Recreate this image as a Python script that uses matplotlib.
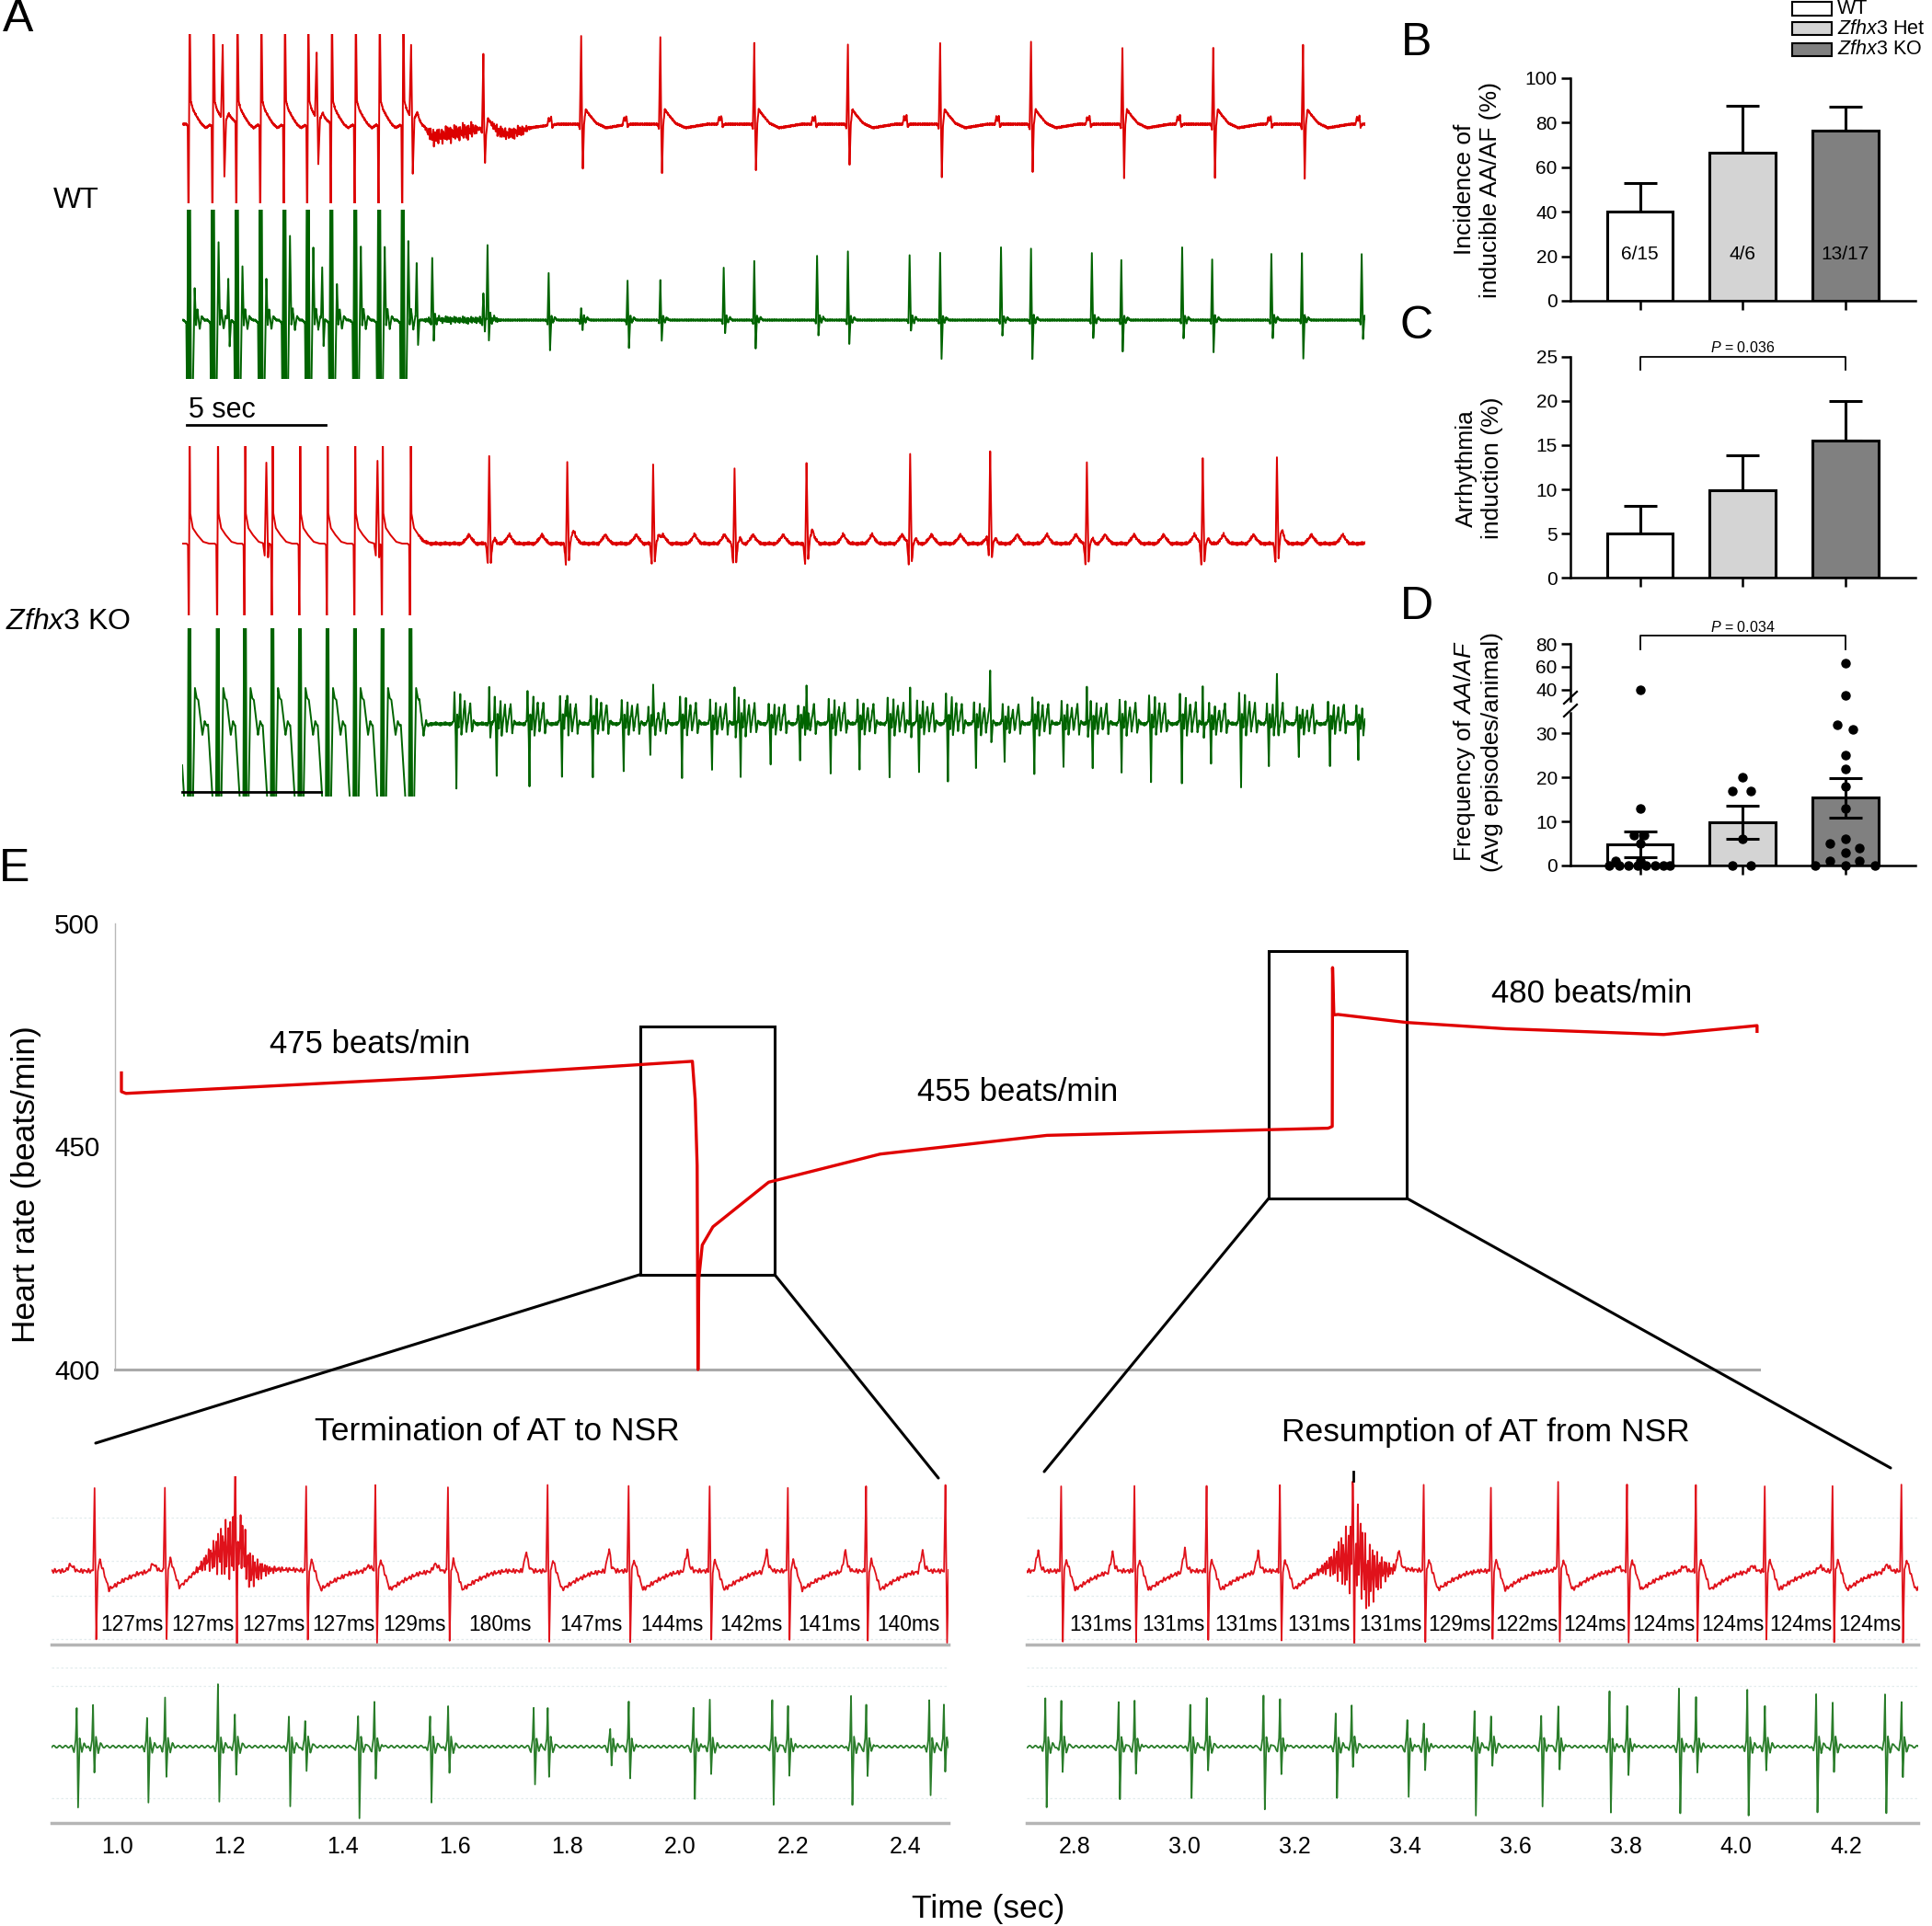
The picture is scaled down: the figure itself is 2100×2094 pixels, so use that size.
import numpy as np
import matplotlib
matplotlib.use("Agg")
import matplotlib.pyplot as plt
from matplotlib import font_manager
from matplotlib.patches import Rectangle, ConnectionPatch
from matplotlib.lines import Line2D
from matplotlib.transforms import blended_transform_factory as blend

# ============================ DATA ============================
# ---- Panels B-D ----
groups = ["WT", "Zfhx3 Het", "Zfhx3 KO"]
incidence_pct = [40.0, 66.7, 76.5]
incidence_sem = [13.0, 21.0, 10.5]
incidence_n = ["6/15", "4/6", "13/17"]
induction_pct = [5.0, 9.9, 15.5]
induction_sem = [3.1, 3.9, 4.5]
freq_mean = [4.8, 9.8, 15.4]
freq_sem = [3.0, 3.8, 4.5]
freq_wt = [40, 13, 7, 7, 5, 1, 1, 0, 0, 0, 0, 0, 0, 0, 0]
freq_het = [20, 17, 17, 6, 0, 0]
freq_ko = [63, 35, 32, 31, 25, 22, 18, 13, 6, 5, 4, 3, 1, 1, 0, 0, 0]
p_induction = "0.036"
p_frequency = "0.034"

# ---- Panel A (time in s) ----
wt_pace_t = [0.25, 1.11, 1.97, 2.83, 3.68, 4.52, 5.37, 6.23, 7.09, 7.94]
wt_pvc_t = [1.46, 4.84, 8.24]
wt_pvc_up = [0.81, 0.71, 0.79]
wt_pvc_dn = [-0.59, -0.46, -0.59]
wt_pvc_green = [0.45, 0.56, 0.60]
wt_green_sec = [0.35, 0.85, 0.58, 0.45, 0.91, 0.78, 0.40, 0.80, 0.80, 0.85]
wt_beat_t = [10.84, 14.36, 17.21, 20.59, 23.96, 27.28, 30.55, 33.84, 37.11, 40.34]
wt_beat_up = [0.82, 0.96, 0.94, 0.88, 0.87, 0.88, 0.90, 0.82, 0.83, 0.87]
wt_beat_dn = [-0.33, -0.49, -0.53, -0.51, -0.44, -0.57, -0.52, -0.58, -0.59, -0.60]
wt_pwave_t = [13.26, 15.97, 19.39, 22.76, 26.05, 29.37, 32.64, 35.89, 39.16, 42.35]
wt_wander_t = [8.45, 8.75, 9.05, 10.7, 10.8, 10.95, 11.2, 12.0, 13.5]
wt_wander_v = [0.0, -0.06, -0.14, -0.05, -0.05, -0.10, -0.10, -0.06, 0.0]
wt_green_t = [9.00, 10.84, 10.99, 13.19, 14.36, 16.03, 17.21, 19.49, 20.59, 22.85, 23.96,
              26.18, 27.28, 29.47, 30.55, 32.74, 33.80, 35.99, 37.07, 39.20, 40.30, 42.45]
wt_green_up = [0.68, 0.30, 0.85, 0.51, 0.13, 0.43, 0.43, 0.56, 0.64, 0.70, 0.75,
               0.71, 0.73, 0.79, 0.78, 0.73, 0.66, 0.80, 0.65, 0.72, 0.72, 0.72]
wt_green_dn = [-0.22, -0.10, -0.20, -0.33, -0.10, -0.30, -0.23, -0.14, -0.30, -0.16, -0.26,
               -0.12, -0.43, -0.17, -0.42, -0.20, -0.34, -0.20, -0.35, -0.19, -0.42, -0.20]

ko_pace_t = [0.26, 1.28, 2.26, 3.25, 4.24, 5.23, 6.22, 7.21, 8.22]
ko_pvc_t = [3.03, 7.03]
ko_pvc_up = [0.88, 0.90]
ko_beat_t = [11.05, 13.86, 16.95, 19.88, 22.47, 26.20, 29.08, 32.56, 36.73, 39.40]
ko_beat_up = [0.95, 0.89, 0.85, 0.82, 0.87, 0.98, 0.92, 0.88, 0.92, 0.91]
ko_fib_t = [9.87, 11.32, 12.50, 13.67, 14.78, 15.89, 16.85, 17.99, 19.07, 20.10, 21.18, 22.24,
            23.34, 24.38, 25.46, 26.52, 27.56, 28.57, 29.60, 30.67, 31.72, 32.77, 33.81, 34.87,
            35.98, 37.03, 38.11, 39.11, 40.19, 41.31, 42.33]
ko_fib_dn = [-0.70, -0.57, -0.67, -0.58, -0.60, -0.52, -0.33, -0.58, -0.50, -0.57, -0.45, -0.40,
             -0.53, -0.50, -0.57, -0.52, -0.63, -0.48, -0.42, -0.55, -0.47, -0.48, -0.52, -0.63,
             -0.63, -0.43, -0.68, -0.45, -0.37, -0.47, -0.38]
scale_bar_sec = 5

# ---- Panel E: heart-rate trend ----
hr_time = [0.39, 0.39, 0.67, 19.25, 35.12, 35.29, 35.41, 35.46, 35.51, 35.72, 36.37, 39.76,
           46.54, 56.69, 73.78, 73.86, 74.04, 74.06, 74.14, 74.39, 78.57, 84.57, 94.20, 99.88, 99.88]
hr_bpm = [466.5, 462.3, 461.9, 465.4, 469.1, 460.6, 445.7, 400.0, 420.4, 427.9, 432.0, 442.0,
          448.3, 452.5, 454.1, 454.2, 454.5, 490.1, 479.5, 479.6, 477.8, 476.4, 475.1, 477.1, 475.8]
hr_labels = ["475 beats/min", "455 beats/min", "480 beats/min"]
hr_label_pos = [(15.5, 472.9), (54.9, 462.1), (89.8, 484.2)]
zoom_boxes = [(31.95, 40.12, 421.3, 477.0), (70.18, 78.57, 438.4, 493.9)]

# ---- Panel E: ECG strips (time in s) ----
L_win = (0.883, 2.477)
R_win = (2.713, 4.331)
R_up_amp, R_dn_amp = 0.92, -0.76
L_R_t = [0.961, 1.086, 1.211, 1.337, 1.460, 1.589, 1.766, 1.910, 2.054, 2.193, 2.332, 2.473]
L_int = [127, 127, 127, 127, 129, 180, 147, 144, 142, 141, 140]
L_P_t = [0.916, 1.063, 1.445, 1.565, 1.727, 1.874, 2.013, 2.154, 2.294, 2.431]
L_P_a = [0.07, 0.08, 0.05, 0.08, 0.22, 0.25, 0.23, 0.22, 0.23, 0.23]
L_G_t = [0.929, 0.958, 1.054, 1.086, 1.180, 1.210, 1.306, 1.335, 1.429, 1.458, 1.557, 1.589,
         1.741, 1.766, 1.877, 1.910, 2.025, 2.054, 2.165, 2.193, 2.305, 2.332, 2.444, 2.470]
L_G_up = [0.41, 0.46, 0.31, 0.53, 0.68, 0.36, 0.33, 0.29, 0.34, 0.48, 0.34, 0.45,
          0.41, 0.43, 0.18, 0.48, 0.41, 0.51, 0.51, 0.43, 0.56, 0.45, 0.50, 0.46]
L_G_dn = [-0.67, -0.29, -0.62, -0.34, -0.61, -0.31, -0.66, -0.26, -0.77, -0.34, -0.61, -0.29,
          -0.41, -0.32, -0.21, -0.34, -0.57, -0.31, -0.62, -0.32, -0.64, -0.31, -0.54, -0.26]
L_ticks = [1.0, 1.2, 1.4, 1.6, 1.8, 2.0, 2.2, 2.4]

R_R_t = [2.777, 2.910, 3.041, 3.174, 3.306, 3.435, 3.557, 3.679, 3.804, 3.929, 4.054, 4.177, 4.302]
R_int = [131, 131, 131, 131, 131, 129, 122, 124, 124, 124, 124, 124]
R_P_t = [2.734, 2.869, 3.000, 3.133, 3.389, 3.671, 3.783, 3.903, 4.028, 4.150, 4.273]
R_P_a = [0.23, 0.22, 0.26, 0.22, 0.22, 0.02, 0.03, 0.04, 0.05, 0.04, 0.07]
R_G_t = [2.748, 2.777, 2.881, 2.910, 3.011, 3.041, 3.144, 3.174, 3.275, 3.304, 3.405, 3.435, 3.527,
         3.557, 3.648, 3.679, 3.772, 3.804, 3.898, 3.929, 4.022, 4.054, 4.147, 4.177, 4.272, 4.302]
R_G_up = [0.53, 0.51, 0.49, 0.49, 0.46, 0.54, 0.56, 0.51, 0.36, 0.46, 0.28, 0.24, 0.39,
          0.34, 0.33, 0.43, 0.59, 0.43, 0.62, 0.53, 0.62, 0.44, 0.58, 0.49, 0.58, 0.49]
R_G_dn = [-0.67, -0.27, -0.56, -0.29, -0.57, -0.26, -0.67, -0.29, -0.57, -0.22, -0.54, -0.26, -0.76,
          -0.21, -0.64, -0.24, -0.72, -0.31, -0.73, -0.29, -0.76, -0.27, -0.72, -0.27, -0.72, -0.32]
R_ticks = [2.8, 3.0, 3.2, 3.4, 3.6, 3.8, 4.0, 4.2]
L_burst = (1.205, 0.35, 0.25)   # centre, oscillation amplitude, hump
R_burst = (3.315, 0.45, 0.15)

# ============================ STYLE / LAYOUT ============================
names = {f.name for f in font_manager.fontManager.ttflist}
SANS = "Liberation Sans" if "Liberation Sans" in names else "DejaVu Sans"
NARROW = "Liberation Sans Narrow" if "Liberation Sans Narrow" in names else None
plt.rcParams["font.family"] = [SANS, "DejaVu Sans"]
plt.rcParams["mathtext.fontset"] = "custom"
plt.rcParams["mathtext.rm"] = SANS
plt.rcParams["mathtext.it"] = SANS + ":italic"
plt.rcParams["mathtext.bf"] = SANS + ":bold"
COND = [NARROW, "DejaVu Sans"] if NARROW else [SANS, "DejaVu Sans"]
CS = 1.0 if NARROW else 0.82

RED_A, GREEN_A = "#dc0000", "#006400"
RED_E, GREEN_E = "#e0121b", "#2a7d2a"

W, H = 2100, 2094
fig = plt.figure(figsize=(W / 100, H / 100), dpi=100)


def fx(x):
    return x / W


def fy(y):
    return 1 - y / H


def pax(x0, y0, x1, y1):
    return fig.add_axes([x0 / W, 1 - y1 / H, (x1 - x0) / W, (y1 - y0) / H])


class Trace:
    def __init__(self):
        self.parts = []

    def add(self, c, offs, vals):
        self.parts.append((float(c), np.asarray(offs, float), np.asarray(vals, float)))

    def render(self, t0, t1, dt):
        pts = [np.arange(t0, t1 + dt / 2, dt)]
        for c, o, v in self.parts:
            pts.append(c + o)
        t = np.unique(np.concatenate(pts))
        t = t[(t >= t0) & (t <= t1)]
        y = np.zeros_like(t)
        for c, o, v in self.parts:
            y += np.interp(t, c + o, v, left=0.0, right=0.0)
        return t, y


def wig(t, amp, f=(13.1, 19.7, 29.3)):
    return amp * (np.sin(2 * np.pi * f[0] * t) + 0.7 * np.sin(2 * np.pi * f[1] * t + 1.3)
                  + 0.5 * np.sin(2 * np.pi * f[2] * t + 2.1)) / 2.2


def window(t, a, b, edge):
    return np.clip((t - a) / edge, 0, 1) * np.clip((b - t) / edge, 0, 1)


# ---------------- panel letters ----------------
for s, (x, y) in {"A": (20, 21), "B": (1540, 47), "C": (1540, 355), "D": (1540, 660), "E": (16, 945)}.items():
    fig.text(fx(x), fy(y), s, fontsize=36, ha="center", va="center")

# ============================ PANEL A ============================
TA = (0.0, 42.58)


def trace_axes(ytop, ybase, ybot):
    ax = pax(198, ytop, 1484, ybot)
    ax.set_xlim(*TA)
    ax.set_ylim(-(ybot - ybase) / 100, (ybase - ytop) / 100)
    ax.axis("off")
    return ax


# WT red
tr = Trace()
for tp in wt_pace_t:
    tr.add(tp, [-0.10, -0.05, -0.02, 0.02, 0.06, 0.14, 0.28, 0.45, 0.60, 0.80],
           [0, -0.02, -1.2, 1.3, 0.25, 0.16, 0.08, 0.0, -0.04, 0])
for tt, up, dn in zip(wt_pvc_t, wt_pvc_up, wt_pvc_dn):
    tr.add(tt, [-0.06, 0, 0.06, 0.12, 0.22, 0.4, 0.6], [0, up, dn, 0.05, 0.15, 0.05, 0])
for tb, up, dn in zip(wt_beat_t, wt_beat_up, wt_beat_dn):
    tr.add(tb, [-0.10, -0.05, 0, 0.03, 0.06, 0.10, 0.16, 0.30, 0.55, 0.9, 1.3, 1.7],
           [0, -0.05, up, 0, dn, -0.02, 0.16, 0.10, 0.01, -0.04, -0.02, 0])
for tpw in wt_pwave_t:
    tr.add(tpw, [-0.12, -0.07, -0.03, 0.02, 0.06, 0.12], [0, 0.08, 0.04, 0.09, -0.03, 0])
tr.add(0, wt_wander_t, wt_wander_v)
t, y = tr.render(*TA, 0.004)
y += wig(t, 0.10) * window(t, 8.7, 10.75, 0.3) + wig(t, 0.07) * window(t, 10.95, 12.6, 0.4)
y += wig(t, 0.012, (31.0, 43.0, 57.0))
ax = trace_axes(37, 135, 221)
ax.plot(t, y, color=RED_A, lw=1.4)

# WT green
tg = Trace()
for tp, sec in zip(wt_pace_t, wt_green_sec):
    tg.add(tp, [-0.20, -0.10, -0.07, -0.035, 0, 0.035, 0.07, 0.12, 0.2, 0.25, 0.3, 0.38, 0.45, 0.55, 0.7],
           [0, -0.03, -1.0, 1.5, -1.0, 1.5, -1.0, -1.0, sec, -0.05, 0.12, -0.1, 0.04, 0, 0])
for tt, up in zip(wt_pvc_t, wt_pvc_green):
    tg.add(tt + 0.2, [-0.04, 0, 0.05, 0.1], [0, up, -0.28, 0])
for tt, up, dn in zip(wt_green_t, wt_green_up, wt_green_dn):
    tg.add(tt, [-0.08, -0.04, 0, 0.05, 0.1, 0.16, 0.22, 0.3], [0, -0.04, up, dn, 0.05, -0.03, 0.03, 0])
t, y = tg.render(*TA, 0.004)
y += wig(t, 0.04) * window(t, 8.6, 11.5, 0.3) + wig(t, 0.01, (31.0, 43.0, 57.0))
ax = trace_axes(228, 348, 412)
ax.plot(t, y, color=GREEN_A, lw=1.4)
ax.plot([0.18, 0.18 + scale_bar_sec], [-1.14, -1.14], color="black", lw=2, clip_on=False)
ax.text(0.22, -0.98, "5 sec", fontsize=22, ha="left", va="center")

# KO red
kr = Trace()
for tp in ko_pace_t:
    kr.add(tp, [-0.10, -0.05, -0.02, 0.01, 0.03, 0.12, 0.27, 0.49, 0.7],
           [0, -0.02, -1.0, 1.3, 0.33, 0.17, 0.10, 0.02, 0])
for tt, up in zip(ko_pvc_t, ko_pvc_up):
    kr.add(tt, [-0.12, -0.06, 0, 0.06, 0.1], [0, -0.13, up, -0.15, 0])
for tb, up in zip(ko_beat_t, ko_beat_up):
    kr.add(tb, [-0.12, -0.05, 0, 0.06, 0.12, 0.2, 0.3, 0.45], [0, -0.22, up, -0.2, 0.0, 0.06, 0.0, 0])
for tf in ko_fib_t:
    kr.add(tf + 0.45, [-0.25, -0.1, 0, 0.1, 0.25], [0, 0.05, 0.10, 0.05, 0])
t, y = kr.render(*TA, 0.004)
y += wig(t, 0.02, (17.0, 23.0, 37.0)) * (t > 8.5)
ax = trace_axes(485, 591, 669)
ax.plot(t, y, color=RED_A, lw=1.4)

# KO green
kg = Trace()
for tp in ko_pace_t:
    kg.add(tp, [-0.35, -0.15, -0.06, -0.03, 0, 0.03, 0.06, 0.12, 0.20, 0.26, 0.32, 0.40, 0.47, 0.55, 0.62, 0.70],
           [0, -1.0, -1.0, 1.4, -1.0, 1.4, -1.0, -1.0, 0.39, 0.28, 0.26, 0.05, -0.12, 0.03, -0.02, 0])
for tf, d in zip(ko_fib_t, ko_fib_dn):
    s = abs(d) / 0.55
    kg.add(tf, [-0.16, -0.10, -0.07, -0.03, 0, 0.03, 0.08, 0.14, 0.18, 0.24, 0.30, 0.36, 0.42, 0.50, 0.56, 0.62, 0.70],
           [0, 0.04, 0.28 * s, -0.05, d, 0.1, -0.05, 0.25 * s, -0.12, 0.05, 0.2 * s, -0.08, 0.05, 0.22, -0.1, 0.03, 0])
for tb in ko_beat_t:
    kg.add(tb, [-0.03, 0, 0.04, 0.08], [0, 0.4, -0.15, 0])
t, y = kg.render(*TA, 0.004)
y += wig(t, 0.02, (17.0, 23.0, 37.0)) * (t > 8.5)
ax = trace_axes(683, 787, 866)
ax.plot(t, y, color=GREEN_A, lw=1.4)
ax.plot([0.0, scale_bar_sec], [-0.74, -0.74], color="black", lw=2, clip_on=False)

fig.text(fx(83), fy(218), "WT", fontsize=23, ha="center", va="center")
fig.text(fx(74), fy(676), r"$\mathit{Zfhx3}$ KO", fontsize=23, ha="center", va="center")

# ============================ PANELS B-D ============================
xb = np.arange(3)
bar_fc = ["white", "#d4d4d4", "#808080"]
BX0, BX1 = 1706.7, 2081.7
XL = (-0.68, 2.68)


def bar_axes(ytop, ybot, ylim, yticks):
    a = pax(BX0, ytop, BX1, ybot)
    a.set_xlim(*XL)
    a.set_ylim(*ylim)
    for s in ("top", "right"):
        a.spines[s].set_visible(False)
    for s in ("left", "bottom"):
        a.spines[s].set_linewidth(1.8)
    a.set_yticks(yticks)
    a.set_xticks(xb)
    a.set_xticklabels([])
    a.tick_params(length=7, width=1.8, labelsize=15, pad=3)
    a.patch.set_alpha(0)
    return a


# B
axB = bar_axes(85, 327, (0, 100), range(0, 101, 20))
axB.errorbar(xb, incidence_pct, yerr=[[0, 0, 0], incidence_sem], fmt="none", ecolor="black",
             elinewidth=2.2, capsize=13, capthick=2.2, zorder=1)
axB.bar(xb, incidence_pct, 0.64, color=bar_fc, edgecolor="black", linewidth=2.2, zorder=2)
for x, s in zip(xb, incidence_n):
    axB.text(x, 20.8, s, ha="center", va="center", fontsize=15, zorder=3)
fig.text(fx(1606), fy(206), "Incidence of\ninducible AA/AF (%)", rotation=90, fontsize=19,
         ha="center", va="center", multialignment="center")

# C
axC = bar_axes(387.7, 628.3, (0, 25), range(0, 26, 5))
axC.errorbar(xb, induction_pct, yerr=[[0, 0, 0], induction_sem], fmt="none", ecolor="black",
             elinewidth=2.2, capsize=13, capthick=2.2, zorder=1)
axC.bar(xb, induction_pct, 0.64, color=bar_fc, edgecolor="black", linewidth=2.2, zorder=2)
axC.plot([0, 0, 2, 2], [23.5, 25, 25, 23.5], color="black", lw=1.3, clip_on=False)
axC.text(1, 26.05, "$P$ = " + p_induction, ha="center", va="center", fontsize=11.5)
fig.text(fx(1608), fy(509), "Arrhythmia\ninduction (%)", rotation=90, fontsize=19,
         ha="center", va="center", multialignment="center")

# D (broken axis)
D_BREAK = 34.7
axD = bar_axes(775, 941, (0, D_BREAK), [0, 10, 20, 30])
axD.bar(xb, freq_mean, 0.64, color=bar_fc, edgecolor="black", linewidth=2.2, zorder=2)
axD.errorbar(xb, freq_mean, yerr=freq_sem, fmt="none", ecolor="black",
             elinewidth=2.2, capsize=13, capthick=2.2, zorder=3)
axDu = pax(BX0, 700, BX1, 761.7)
axDu.set_xlim(*XL)
axDu.set_ylim(30.6, 80)
for s in ("top", "right", "bottom"):
    axDu.spines[s].set_visible(False)
axDu.spines["left"].set_linewidth(1.8)
axDu.set_yticks([40, 60, 80])
axDu.set_xticks([])
axDu.tick_params(length=7, width=1.8, labelsize=15, pad=3)
axDu.patch.set_alpha(0)
jit_wt = [0, 0, -0.06, 0.04, 0, -0.24, 0, -0.30, -0.20, -0.11, -0.02, 0.06, 0.15, 0.23, 0.29]
jit_het = [0, -0.10, 0.08, 0, -0.10, 0.08]
jit_ko = [0, 0, -0.075, 0.075, 0, 0, 0, 0, 0, -0.15, 0.14, 0, -0.15, 0.14, -0.29, 0, 0.29]
for gi, (vals, jit) in enumerate([(freq_wt, jit_wt), (freq_het, jit_het), (freq_ko, jit_ko)]):
    for v, dx in zip(vals, jit):
        a = axDu if v > D_BREAK else axD
        a.plot(gi + dx, v, "o", color="black", ms=6.5, zorder=5, clip_on=False)
axDu.plot([0, 0, 2, 2], [75.4, 87.3, 87.3, 75.4], color="black", lw=1.3, clip_on=False)
axDu.text(1, 94.8, "$P$ = " + p_frequency, ha="center", va="center", fontsize=11.5)
for (x0, y0, x1, y1) in [(1700, 765, 1714, 752), (1700, 779, 1714, 766)]:
    fig.add_artist(Line2D([fx(x0), fx(x1)], [fy(y0), fy(y1)], color="black", lw=1.6))
fig.text(fx(1606), fy(817), "Frequency of $\\mathit{AA/AF}$\n(Avg episodes/animal)", rotation=90,
         fontsize=19, ha="center", va="center", multialignment="center")

# legend
for (y0, y1), fc, lab in zip([(1.7, 16.7), (24.0, 38.3), (46.7, 61.0)], bar_fc,
                             ["WT", r"$\mathit{Zfhx3}$ Het", r"$\mathit{Zfhx3}$ KO"]):
    fig.add_artist(Rectangle((fx(1948), fy(y1)), (1991 - 1948) / W, (y1 - y0) / H,
                             transform=fig.transFigure, facecolor=fc, edgecolor="black", lw=1.5))
    fig.text(fx(1997), fy((y0 + y1) / 2), lab, fontsize=15.5, ha="left", va="center")

# ============================ PANEL E ============================
axE = pax(125, 1004, 1912, 1489)
axE.set_xlim(0, 100)
axE.set_ylim(400, 500)
axE.spines["top"].set_visible(False)
axE.spines["right"].set_visible(False)
axE.spines["left"].set_color("#b8b8b8")
axE.spines["left"].set_linewidth(1.0)
axE.spines["bottom"].set_color("#aaaaaa")
axE.spines["bottom"].set_linewidth(2.2)
axE.set_xticks([])
axE.set_yticks([400, 450, 500])
axE.set_yticklabels(["400", "450", "500"], fontsize=26 * CS, family=COND)
axE.tick_params(axis="y", length=0, pad=12)
axE.plot(hr_time, hr_bpm, color="#e00000", lw=2.4, clip_on=False, zorder=4)
for (x0, x1, y0, y1) in zoom_boxes:
    axE.add_patch(Rectangle((x0, y0), x1 - x0, y1 - y0, fill=False, ec="black", lw=2.2,
                            clip_on=False, zorder=3))
for s, (x, yv) in zip(hr_labels, hr_label_pos):
    axE.text(x, yv, s, ha="center", va="center", fontsize=25)
fig.text(fx(29), fy(1288), "Heart rate (beats/min)", rotation=90, fontsize=25.5, ha="center", va="center")

conn = [((zoom_boxes[0][0], zoom_boxes[0][2]), (104, 1569)),
        ((zoom_boxes[0][1], zoom_boxes[0][2]), (1020, 1607)),
        ((zoom_boxes[1][0], zoom_boxes[1][2]), (1135, 1600)),
        ((zoom_boxes[1][1], zoom_boxes[1][2]), (2055, 1596))]
for xyA, (px, py) in conn:
    fig.add_artist(ConnectionPatch(xyA=xyA, coordsA="data", axesA=axE, xyB=(fx(px), fy(py)),
                                   coordsB="figure fraction", color="black", lw=2.2))

fig.text(fx(540), fy(1557), "Termination of AT to NSR", fontsize=25.5, ha="center", va="center")
fig.text(fx(1615), fy(1557), "Resumption of AT from NSR", fontsize=25.5, ha="center", va="center")
fig.text(fx(1074), fy(2075), "Time (sec)", fontsize=25.5, ha="center", va="center")


def strip_axes(x0, x1, ytop, ybase, ybot, win, grid_levels):
    a = pax(x0, ytop, x1, ybot)
    a.set_xlim(*win)
    a.set_ylim(-(ybot - ybase) / 100, (ybase - ytop) / 100)
    for s in ("top", "right", "left"):
        a.spines[s].set_visible(False)
    a.spines["bottom"].set_color("#b5b5b5")
    a.spines["bottom"].set_linewidth(2.5)
    a.set_yticks([])
    a.set_xticks([])
    for g in grid_levels:
        a.axhline(g, color="#e3ecee", lw=0.9, ls=(0, (2, 2)), zorder=0)
    return a


def red_strip(ax, win, Rt, Pt, Pa, burst, intervals):
    tr = Trace()
    for tb in Rt:
        tr.add(tb, [-0.004, -0.0015, 0, 0.0015, 0.004, 0.008, 0.014, 0.024, 0.05, 0.075, 0.1],
               [0, R_up_amp, 0, R_dn_amp, 0, 0.12, 0.0, -0.2, -0.1, -0.03, 0])
    for tp, a in zip(Pt, Pa):
        tr.add(tp, [-0.008, -0.002, 0, 0.004, 0.012], [0, 0.7 * a, a, 0.05, 0])
    t, y = tr.render(*win, 0.0002)
    c, amp, hump = burst
    env = np.exp(-0.5 * ((t - c) / 0.03) ** 2)
    y += hump * np.exp(-0.5 * ((t - c) / 0.045) ** 2)
    y += amp * env * (np.sin(2 * np.pi * 230 * t) + 0.6 * np.sin(2 * np.pi * 370 * t + 0.7)) / 1.6
    y += 0.014 * np.sin(2 * np.pi * 151 * t) + 0.01 * np.sin(2 * np.pi * 233 * t + 1)
    ax.plot(t, y, color=RED_E, lw=1.3, zorder=2)
    tf = blend(ax.transData, ax.transAxes)
    for i, ms in enumerate(intervals):
        ax.text((Rt[i] + Rt[i + 1]) / 2 + 0.003, 0.115, f"{ms}ms", transform=tf, ha="center",
                va="center", fontsize=20 * CS, family=COND, zorder=3)


def green_strip(ax, win, Gt, Gu, Gd, ticks):
    tr = Trace()
    for tg_, u, d in zip(Gt, Gu, Gd):
        tr.add(tg_, [-0.010, -0.006, -0.003, -0.0012, 0, 0.0012, 0.004, 0.008, 0.012, 0.016],
               [0, -0.05, 0.08, u, 0, d, 0.1, -0.06, 0.03, 0])
    t, y = tr.render(*win, 0.0002)
    y += 0.012 * np.sin(2 * np.pi * 95 * t)
    ax.plot(t, y, color=GREEN_E, lw=1.3, zorder=2)
    ax.set_xticks(ticks)
    ax.set_xticklabels([f"{v:.1f}" for v in ticks], fontsize=22 * CS, family=COND)
    ax.tick_params(axis="x", length=0, pad=10)


red_grid = [0.58, 0.11, -0.27, -0.74]
green_grid = [0.86, 0.66, -0.56]
axLr = strip_axes(56, 1031, 1605, 1708, 1788, L_win, red_grid)
axLg = strip_axes(56, 1031, 1800, 1899, 1982, L_win, green_grid)
axRr = strip_axes(1116, 2085, 1605, 1708, 1788, R_win, red_grid)
axRg = strip_axes(1116, 2085, 1800, 1899, 1982, R_win, green_grid)
red_strip(axLr, L_win, L_R_t, L_P_t, L_P_a, L_burst, L_int)
red_strip(axRr, R_win, R_R_t, R_P_t, R_P_a, R_burst, R_int)
green_strip(axLg, L_win, L_G_t, L_G_up, L_G_dn, L_ticks)
green_strip(axRg, R_win, R_G_t, R_G_up, R_G_dn, R_ticks)
axRr.plot([R_R_t[4], R_R_t[4]], [0.98, 1.08], color="black", lw=2, clip_on=False)

fig.savefig("out.png", dpi=100)
